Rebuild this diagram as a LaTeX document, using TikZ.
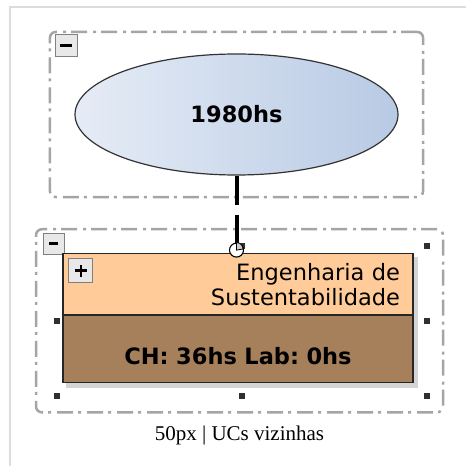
\documentclass[tikz,border=0pt]{standalone}
\usepackage{fontspec}
\setmainfont{DejaVu Sans}
\newfontfamily\captionfont{Liberation Serif}
\usepackage{xcolor}
\usepackage{tikz}
\usetikzlibrary{shapes.geometric, positioning, fit, backgrounds}
\frenchspacing
\definecolor{framegray}{RGB}{220,220,220}
\definecolor{groupgray}{RGB}{165,165,165}
\definecolor{periodlight}{RGB}{230,236,246}
\definecolor{perioddark}{RGB}{184,202,228}
\definecolor{ucorange}{RGB}{255,204,153}
\definecolor{ucbrown}{RGB}{165,128,91}
\definecolor{iconfill}{RGB}{232,232,232}
\definecolor{icondraw}{RGB}{128,128,128}
\definecolor{shadowgray}{RGB}{212,212,212}
\definecolor{handlegray}{RGB}{48,48,48}
\newcommand{\diafont}{\fontsize{22.5}{25}\selectfont}
\tikzset{
  thumbframe/.style={draw=framegray, line width=1.5pt},
  groupframe/.style={rectangle, rounded corners=6pt, draw=groupgray,
    line width=2.5pt, dash pattern=on 16pt off 5pt on 3pt off 6pt},
  periodnode/.style={ellipse, draw=black!80, line width=1.2pt,
    left color=periodlight, right color=perioddark, minimum width=323pt,
    minimum height=121pt, inner sep=0pt, font=\diafont\bfseries},
  ucnamebox/.style={rectangle, draw=black!85, line width=1.2pt, fill=ucorange,
    minimum width=350pt, minimum height=61pt, text width=324pt,
    inner xsep=13pt, inner ysep=0pt, align=right, font=\diafont},
  uchoursbox/.style={rectangle, draw=black!85, line width=1.2pt, fill=ucbrown,
    minimum width=350pt, text width=324pt, inner xsep=13pt, inner ysep=0pt,
    text height=49pt, text depth=18pt, align=center, font=\diafont\bfseries},
  togglebox/.style={rectangle, draw=icondraw, fill=iconfill, line width=1pt,
    minimum size=22pt, inner sep=0pt},
  togglemark/.style={line width=3pt, black},
  selhandle/.style={rectangle, fill=handlegray, minimum size=6pt, inner sep=0pt},
  portnode/.style={circle, draw=black, fill=white, line width=1.1pt,
    minimum size=14pt, inner sep=0pt},
  linkline/.style={line width=4pt, black, dash pattern=on 29pt off 10pt},
  captiontext/.style={font=\captionfont\fontsize{21}{24}\selectfont, inner sep=0pt},
}

\begin{document}
\begin{tikzpicture}[x=1pt, y=1pt]
  \useasboundingbox (0,0) rectangle (466,466);
  \draw[thumbframe] (10,0) -- (10,459) -- (466,459);

  \node[periodnode] (period) at (236.5,351.5) {1980hs};
  \node[ucnamebox, below=77.5pt of period, xshift=1.5pt] (ucname)
    {Engenharia de\\Sustentabilidade};
  \node[uchoursbox, below=0pt of ucname] (uchours) {CH: 36hs Lab: 0hs};
  \node[fit=(ucname)(uchours), inner sep=0pt] (ucbox) {};
  \coordinate (selnw) at ([shift={(-5,7)}]ucbox.north west);
  \coordinate (selse) at ([shift={(13,-12)}]ucbox.south east);
  \node[fit=(selnw)(selse), inner sep=0pt] (sel) {};

  % group frames, shadow and selection handles
  \begin{scope}[on background layer]
    \fill[shadowgray] ([shift={(4,-4)}]ucbox.north west)
      rectangle ([shift={(4,-4)}]ucbox.south east);
    \node[groupframe, fit=(period), inner xsep=24.5pt, inner ysep=21.5pt]
      (periodframe) {};
    \node[groupframe, fit=(sel), inner xsep=18.5pt, inner ysep=16.5pt,
      xshift=-2.5pt] (ucframe) {};
    \foreach \a in {north west, north, north east, east, south east, south,
      south west, west}
      \node[selhandle] at (sel.\a) {};
    \node[togglebox, anchor=north west] (periodtoggle)
      at ([shift={(6,-3)}]periodframe.north west) {};
    \node[togglebox, anchor=north west, minimum size=21pt] (uctoggle)
      at ([shift={(8,-5)}]ucframe.north west) {};
    \draw[togglemark] ([xshift=-6pt]periodtoggle.center)
      -- ([xshift=6pt]periodtoggle.center);
    \draw[togglemark] ([xshift=-5pt]uctoggle.center)
      -- ([xshift=4pt]uctoggle.center);
  \end{scope}

  \node[togglebox, minimum size=24pt, anchor=north west] (ucexpand)
    at ([shift={(6,-5)}]ucname.north west) {};
  \draw[togglemark, line width=2.5pt] ([xshift=-6pt]ucexpand.center)
    -- ([xshift=6pt]ucexpand.center);
  \draw[togglemark, line width=2.5pt] ([yshift=-6pt]ucexpand.center)
    -- ([yshift=6pt]ucexpand.center);

  % connector
  \node[portnode] (port) at ([yshift=3pt]ucname.north -| period.south) {};
  \draw[linkline] (period.south) -- (port.north);
  \filldraw[fill=black!20, draw=black, line width=0.8pt] (port.center)
    -- (port.north) arc[start angle=90, end angle=0, radius=6.5pt] -- cycle;

  \node[captiontext, anchor=base] (caption) at ([yshift=-27pt]ucframe.south)
    {50px | UCs vizinhas};
\end{tikzpicture}
\end{document}
